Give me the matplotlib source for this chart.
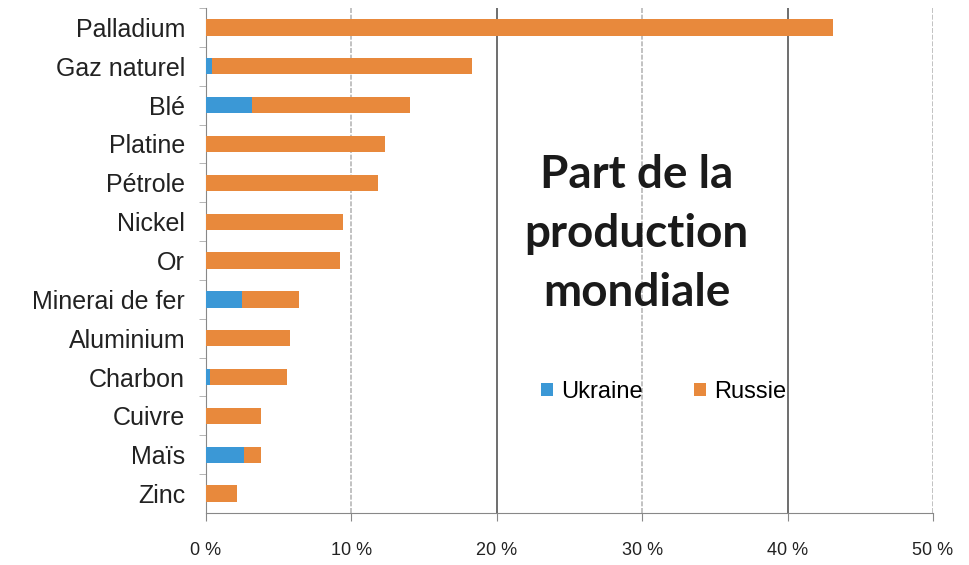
import matplotlib.pyplot as plt

# Part de la production mondiale (%), Ukraine et Russie
Produits = ["Palladium", "Gaz naturel", "Blé", "Platine", "Pétrole", "Nickel", "Or",
            "Minerai de fer", "Aluminium", "Charbon", "Cuivre", "Maïs", "Zinc"]
Ukraine = [0.0, 0.4, 3.15, 0.0, 0.0, 0.0, 0.0, 2.45, 0.0, 0.3, 0.0, 2.6, 0.0]
Russie = [43.1, 17.9, 10.9, 12.3, 11.85, 9.45, 9.25, 3.95, 5.75, 5.25, 3.75, 1.15, 2.15]
XTicks = [0, 10, 20, 30, 40, 50]
XTickLabels = ["0 %", "10 %", "20 %", "30 %", "40 %", "50 %"]

BlueCol = "#3b98d6"
OrangeCol = "#e8893c"

fig = plt.figure(figsize=(9.69, 5.65), dpi=100)
ax = fig.add_axes([0.2126, 0.092, 0.7502, 0.8938])

Pos = list(range(len(Produits)))
ax.barh(Pos, Ukraine, height=0.42, color=BlueCol, label="Ukraine", zorder=3)
ax.barh(Pos, Russie, left=Ukraine, height=0.42, color=OrangeCol, label="Russie", zorder=3)

ax.set_ylim(len(Produits) - 0.5, -0.5)
ax.set_xlim(0, 50)

# gridlines (20 and 40 look darker in the scan)
for x in XTicks[1:]:
    if x in (20, 40):
        ax.axvline(x, color="#555555", lw=1.2, zorder=1)
    else:
        ax.axvline(x, color="#b8b8b8", lw=1.2, ls=(0, (3, 1)), zorder=1)

for s in ["top", "right"]:
    ax.spines[s].set_visible(False)
ax.spines["left"].set_color("#888888")
ax.spines["bottom"].set_color("#888888")

ax.set_yticks(Pos)
ax.set_yticklabels(Produits, fontsize=18, family="Liberation Sans", color="#222222")
ax.tick_params(axis="y", length=0, pad=15)
ax.set_yticks([p + 0.5 for p in Pos[:-1]] + [-0.5], minor=True)
ax.tick_params(axis="y", which="minor", length=5, color="#aaaaaa")

ax.set_xticks(XTicks)
ax.set_xticklabels(XTickLabels, fontsize=13, family="Liberation Sans", color="#222222")
ax.tick_params(axis="x", length=6, color="#888888", pad=15)

fig.text(0.657, 0.586, "Part de la\nproduction\nmondiale", ha="center", va="center",
         fontsize=33, fontweight="bold", family="Lato", color="#1a1a1a", linespacing=1.5)

ax.legend(loc="center", bbox_to_anchor=(0.685, 0.306), bbox_transform=fig.transFigure,
          ncol=2, frameon=False, handlelength=0.5, handleheight=0.5,
          handletextpad=0.35, columnspacing=2.2,
          prop={"family": "Liberation Sans", "size": 17})

fig.savefig("out.png", dpi=100)
